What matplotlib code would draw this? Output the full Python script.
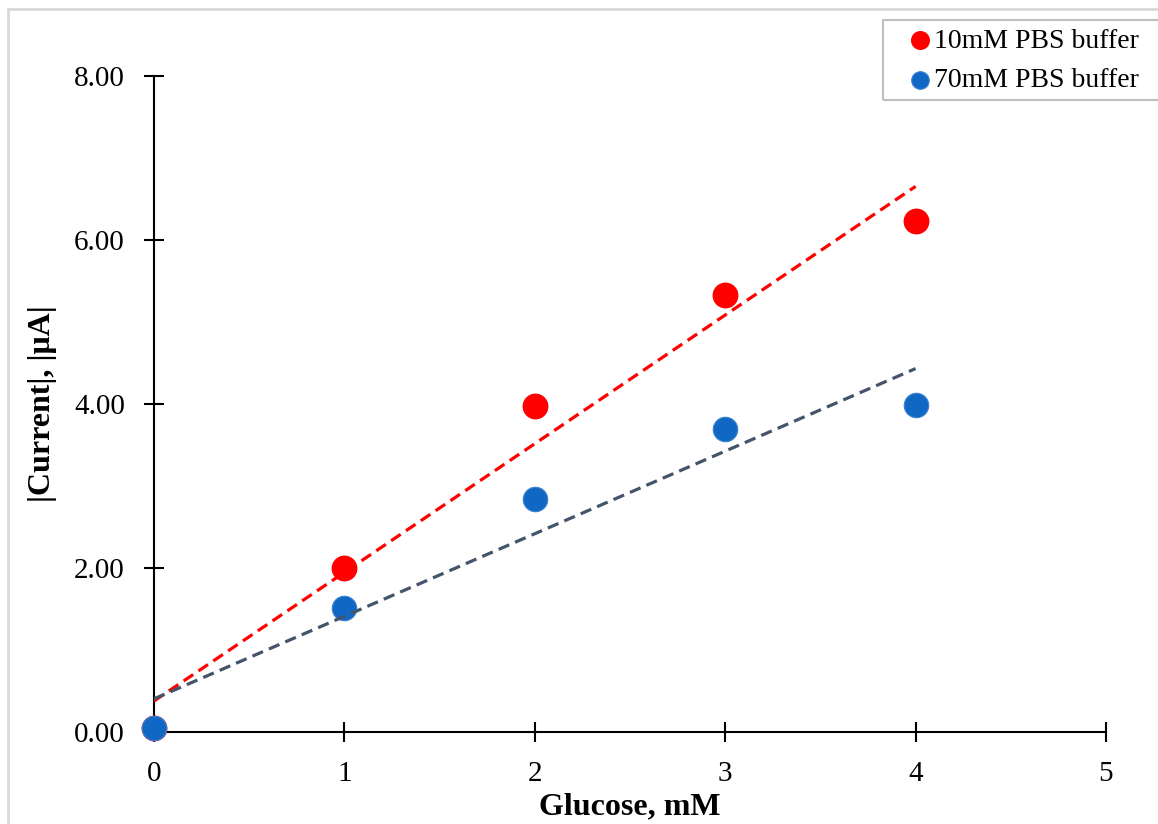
import matplotlib
matplotlib.use("Agg")
import matplotlib.pyplot as plt
import numpy as np
from matplotlib.patches import Rectangle

plt.rcParams["font.family"] = ["Liberation Serif", "DejaVu Serif"]

# data
glucose_mm = [0, 1, 2, 3, 4]
current_10mm = [0.05, 2.00, 3.97, 5.33, 6.23]
current_70mm = [0.05, 1.51, 2.84, 3.70, 3.99]
series_labels = ["10mM PBS buffer", "70mM PBS buffer"]
x_ticks = [0, 1, 2, 3, 4, 5]
y_ticks = [0, 2, 4, 6, 8]

RED = "#FF0000"
BLUE = "#1068C4"
TREND_GRAY = "#44546A"

W, H = 1158, 824
fig = plt.figure(figsize=(W / 100, H / 100), dpi=100)
ax = fig.add_axes([154 / W, 1 - 732 / H, (1106 - 154) / W, (732 - 76) / H])

# light frame around the chart area (cut off at right/bottom as in source)
fig.patches.append(Rectangle((8 / W, -0.1), 1.2, 1.1 - 9 / H, transform=fig.transFigure,
                             fill=False, edgecolor="#D9D9D9", linewidth=2.0))

x = np.array(glucose_mm, dtype=float)
ax.scatter(x, current_10mm, s=310, color=RED, label=series_labels[0], zorder=3, clip_on=False)
ax.scatter(x, current_70mm, s=310, color=BLUE, edgecolor="#3A82D0", linewidths=0.8,
           label=series_labels[1], zorder=3, clip_on=False)

# linear trendlines
for ys, col in [(current_10mm, RED), (current_70mm, TREND_GRAY)]:
    slope, intercept = np.polyfit(x, ys, 1)
    ax.plot([x.min(), x.max()], [intercept + slope * x.min(), intercept + slope * x.max()],
            color=col, linewidth=2.3, linestyle=(0, (3.6, 2.0)), zorder=4)

ax.set_xlim(0, 5)
ax.set_ylim(0, 8)
ax.set_xticks(x_ticks)
ax.set_yticks(y_ticks)
ax.set_yticklabels([f"{v:.2f}" for v in y_ticks])
ax.tick_params(direction="inout", length=14, width=1.5, labelsize=21, colors="black")
ax.tick_params(axis="y", pad=14)
ax.tick_params(axis="x", pad=14)

for side in ["top", "right"]:
    ax.spines[side].set_visible(False)
for side in ["left", "bottom"]:
    ax.spines[side].set_linewidth(1.5)

ax.set_xlabel("Glucose, mM", fontsize=23, fontweight="bold", labelpad=4)
ax.set_ylabel("|Current|, |\u03bcA|", fontsize=23, fontweight="bold", labelpad=12)

# legend box runs past the right edge in the source, so draw the frame separately
fig.patches.append(Rectangle((883 / W, 1 - 100 / H), 300 / W, 80 / H, transform=fig.transFigure,
                             fill=False, edgecolor="#BFBFBF", linewidth=1.5))
fig.legend(loc="upper left", bbox_to_anchor=(887 / W, 1 - 20 / H), fontsize=20,
           markerscale=0.72, handletextpad=-0.4, borderpad=0.3, labelspacing=0.5,
           frameon=False, borderaxespad=0, handlelength=1.8)

fig.savefig("out.png", dpi=100)
